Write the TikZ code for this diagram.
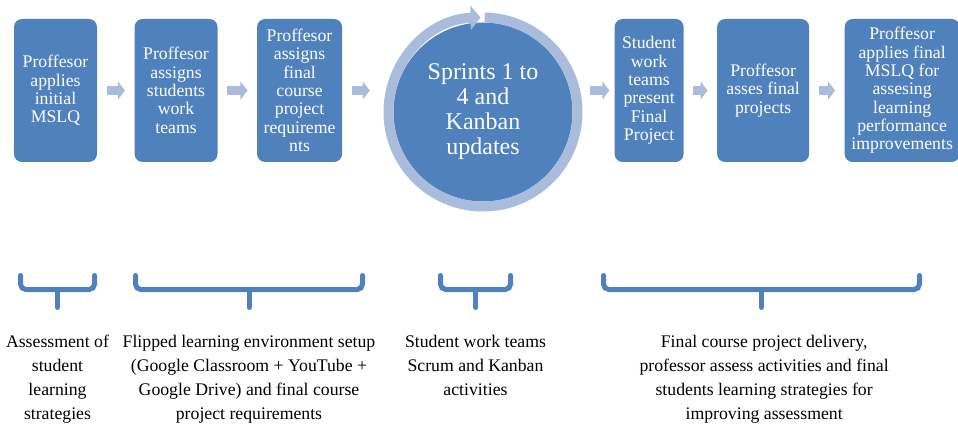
\documentclass[tikz,border=0pt]{standalone}
\usepackage{fontspec}
\setmainfont{Liberation Serif}
\usepackage{tikz}
\usetikzlibrary{arrows.meta,positioning}
\usepackage{xcolor}
\definecolor{smblue}{RGB}{79,129,189}
\definecolor{smlight}{RGB}{170,188,220}
\tikzstyle{flow} = [smlight, line width=6.75pt, -{Triangle[width=13.5pt,length=5.25pt]}, shorten <=7pt, shorten >=7pt]
\tikzstyle{phase} = [rectangle, rounded corners=6pt, minimum width=62.25pt, minimum height=107.25pt, inner sep=0pt, align=center, fill=smblue, text=white, font=\fontsize{13.3}{13.75}\selectfont]
\tikzstyle{brace} = [smblue, line width=3.75pt, rounded corners=4pt, line cap=round]
\tikzstyle{note} = [inner sep=0pt, align=center, font=\fontsize{13.3}{18}\selectfont]

\begin{document}
\begin{tikzpicture}[x=0.75pt, y=0.75pt]
\useasboundingbox (0,0) rectangle (958,-428);

% Professor steps before the sprints
\node (mslqa) [phase] at (55.5,-90.5) {Proffesor\\applies\\initial\\MSLQ};
\node (teams) [phase, right=27.75pt of mslqa] {Proffesor\\assigns\\students\\work\\teams};
\node (reqs) [phase, right=29.25pt of teams, minimum width=63.75pt] {Proffesor\\assigns\\final\\course\\project\\requireme\\nts};

% Sprint cycle
\node (sprints) [circle, fill=smblue, text=white, minimum size=134.25pt, inner sep=0pt, align=center, font=\fontsize{18}{18.75}\selectfont] at (483,-112) {Sprints 1 to\\4 and\\Kanban\\updates};
\draw[smlight, line width=7.5pt, -{Triangle[width=18pt,length=7.5pt]}] ([shift={(89:70.875pt)}]sprints.center) arc[start angle=89, end angle=-268.5, radius=70.875pt];

% Final steps
\node (present) [phase, right=204pt of reqs, minimum width=51.75pt] {Student\\work\\teams\\present\\Final\\Project};
\node (assess) [phase, right=24.75pt of present, minimum width=69pt] {Proffesor\\asses final\\projects};
\node (mslqb) [phase, right=26.25pt of assess, minimum width=86.25pt] {Proffesor\\applies final\\MSLQ for\\assesing\\learning\\performance\\improvements};

\draw[flow] (mslqa) -- (teams);
\draw[flow] (teams) -- (reqs);
\draw[flow, shorten >=17.6pt] (reqs) -- (reqs -| sprints.west);
\draw[flow, shorten <=13.1pt, shorten >=3.75pt] (sprints.east |- present) -- (present);
\draw[flow] (present) -- (assess);
\draw[flow] (assess) -- (mslqb);

% Braces
\coordinate (tip1) at (57.5,-307.5);
\coordinate (tip2) at (249,-307.5);
\coordinate (tip3) at (475.5,-307.5);
\coordinate (tip4) at (761.5,-307.5);
\draw[brace] (20.5,-275.5) -- (20.5,-289.5) -- (94.5,-289.5) -- (94.5,-275.5);
\draw[brace] (57.5,-289.5) -- (tip1);
\draw[brace] (135.5,-275.5) -- (135.5,-289.5) -- (362.5,-289.5) -- (362.5,-275.5);
\draw[brace] (249,-289.5) -- (tip2);
\draw[brace] (440.5,-275.5) -- (440.5,-289.5) -- (510.5,-289.5) -- (510.5,-275.5);
\draw[brace] (475.5,-289.5) -- (tip3);
\draw[brace] (603.5,-275.5) -- (603.5,-289.5) -- (919.5,-289.5) -- (919.5,-275.5);
\draw[brace] (761.5,-289.5) -- (tip4);

% Labels
\node (note1) [note, below=20.6pt of tip1] {Assessment of\\student\\learning\\strategies};
\node (note2) [note, below=20.6pt of tip2] {Flipped learning environment setup\\(Google Classroom + YouTube +\\Google Drive) and final course\\project requirements};
\node (note3) [note, below=20.6pt of tip3] {Student work teams\\Scrum and Kanban\\activities};
\node (note4) [note, below=20.6pt of tip4, xshift=2pt] {Final course project delivery,\\professor assess activities and final\\students learning strategies for\\improving assessment};
\end{tikzpicture}
\end{document}
